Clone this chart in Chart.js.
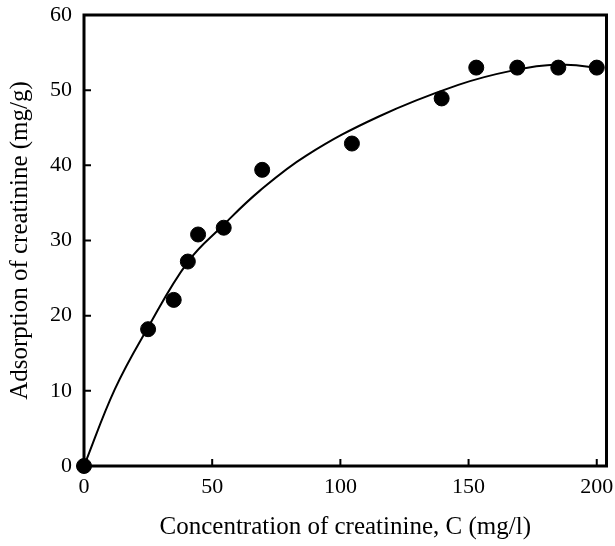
<!DOCTYPE html>
<html>
<head>
<meta charset="utf-8">
<script src="https://cdn.jsdelivr.net/npm/chart.js@4"></script>
<style>
  html, body { margin: 0; padding: 0; background: #fff; }
  #wrap { width: 615px; height: 546px; }
</style>
</head>
<body>
<div id="wrap"><canvas id="chart"></canvas></div>
<script>
// measured points
const concX = [0, 25, 35, 40.5, 44.5, 54.5, 69.5, 104.5, 139.5, 153, 169, 185, 200];
const adsY = [0, 18.2, 22.1, 27.2, 30.8, 31.7, 39.4, 42.9, 48.9, 53.0, 53.0, 53.0, 53.0];

// fitted curve
const fitX = [0, 12, 24.4, 40.6, 54.2, 68.5, 86.7, 115, 146, 167, 184.6, 200];
const fitY = [0, 10.2, 18.1, 27.2, 32.0, 36.6, 41.3, 46.5, 50.7, 52.6, 53.4, 53.0];

const xTicks = [0, 50, 100, 150, 200];
const yTicks = [0, 10, 20, 30, 40, 50, 60];

const serif = "'Liberation Serif', 'Times New Roman', serif";

// box around plot + inward tick marks
const frame = {
  id: "frame",
  afterDraw(chart) {
    const { ctx, chartArea: a, scales } = chart;
    ctx.save();
    ctx.strokeStyle = "#000";
    ctx.lineWidth = 3;
    ctx.strokeRect(a.left, a.top, a.right - a.left, a.bottom - a.top);
    ctx.lineWidth = 2;
    ctx.beginPath();
    xTicks.forEach(v => {
      const px = scales.x.getPixelForValue(v);
      ctx.moveTo(px, a.bottom);
      ctx.lineTo(px, a.bottom - 7);
    });
    yTicks.forEach(v => {
      const py = scales.y.getPixelForValue(v);
      ctx.moveTo(a.left, py);
      ctx.lineTo(a.left + 7, py);
    });
    ctx.stroke();
    ctx.restore();
  }
};

const noPad = s => {
  s.paddingTop = 0;
  s.paddingBottom = 0;
  s.paddingLeft = 0;
  s.paddingRight = 0;
};

const pts = concX.map((x, i) => ({ x: x, y: adsY[i] }));
const fit = fitX.map((x, i) => ({ x: x, y: fitY[i] }));

new Chart(document.getElementById("chart"), {
  type: "scatter",
  data: {
    datasets: [
      {
        data: pts,
        backgroundColor: "#000",
        borderColor: "#000",
        pointRadius: 7.5,
        pointHoverRadius: 7.5,
        clip: false,
        order: 0,
      },
      {
        type: "line",
        data: fit,
        borderColor: "#000",
        borderWidth: 2,
        pointRadius: 0,
        tension: 0.4,
        fill: false,
        order: 1,
      },
    ],
  },
  options: {
    responsive: true,
    maintainAspectRatio: false,
    animation: false,
    layout: {
      padding: { top: 15, right: 4, left: 0, bottom: 0 },
    },
    plugins: {
      legend: { display: false },
      tooltip: { enabled: false },
    },
    scales: {
      x: {
        type: "linear",
        min: 0,
        max: 203.8,
        afterFit: s => { s.height = 80; noPad(s); },
        afterBuildTicks: s => { s.ticks = xTicks.map(v => ({ value: v })); },
        grid: { display: false, drawTicks: false },
        border: { display: false },
        ticks: {
          padding: 8,
          color: "#000",
          font: { family: serif, size: 22 },
        },
        title: {
          display: true,
          text: "Concentration of creatinine, C (mg/l)",
          color: "#000",
          font: { family: serif, size: 25 },
          padding: { top: 0 },
        },
      },
      y: {
        type: "linear",
        min: 0,
        max: 60,
        afterFit: s => { s.width = 84; noPad(s); },
        afterBuildTicks: s => { s.ticks = yTicks.map(v => ({ value: v })); },
        grid: { display: false, drawTicks: false },
        border: { display: false },
        ticks: {
          padding: 12,
          color: "#000",
          font: { family: serif, size: 22 },
        },
        title: {
          display: true,
          text: "Adsorption of creatinine (mg/g)",
          color: "#000",
          font: { family: serif, size: 25 },
          padding: { bottom: 0, top: 5 },
        },
      },
    },
  },
  plugins: [frame],
});
</script>
</body>
</html>
